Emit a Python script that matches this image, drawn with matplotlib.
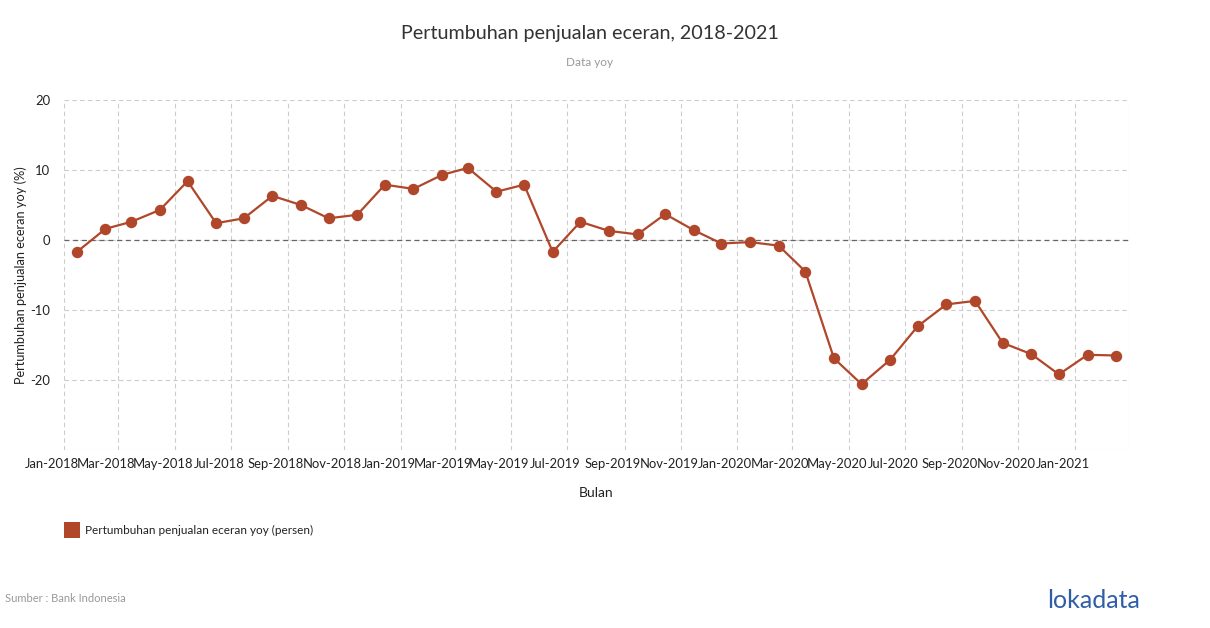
import matplotlib
matplotlib.use("Agg")
import matplotlib.pyplot as plt
import matplotlib.transforms as mtransforms
import pandas as pd
from matplotlib.patches import Rectangle

plt.rcParams['font.family'] = ['Lato', 'DejaVu Sans']

months = pd.date_range("2018-01-01", periods=38, freq="MS") + pd.Timedelta(days=14)
values = [-1.7, 1.6, 2.6, 4.3, 8.4, 2.4, 3.1, 6.3, 5.0, 3.1, 3.6, 7.9,
          7.3, 9.3, 10.3, 6.9, 7.9, -1.7, 2.6, 1.3, 0.8, 3.7, 1.4, -0.5,
          -0.3, -0.8, -4.5, -16.9, -20.6, -17.1, -12.3, -9.2, -8.7, -14.7, -16.3, -19.2,
          -16.4, -16.5]
tick_dates = pd.date_range("2018-01-01", "2021-03-01", freq="2MS")
tick_labels = [d.strftime("%b-%Y") if d < pd.Timestamp("2021-03-01") else "" for d in tick_dates]
y_ticks = [20, 10, 0, -10, -20]
y_labels = ["20", "10", "0", "-10", "-20"]

title = "Pertumbuhan penjualan eceran, 2018-2021"
subtitle = "Data yoy"
series_name = "Pertumbuhan penjualan eceran yoy (persen)"
color = "#B0472A"

W, H = 1210, 628
fig = plt.figure(figsize=(W / 100, H / 100), dpi=100)
ax = fig.add_axes([64 / W, 1 - 450 / H, (1129 - 64) / W, 350 / H])

ax.plot(months, values, color=color, lw=1.6, marker="o", ms=7.2, zorder=3)
ax.axhline(0, color="#666666", lw=0.9, ls=(0, (4, 3)), zorder=2)

ax.set_xlim(pd.Timestamp("2018-01-01"), pd.Timestamp("2021-03-01"))
ax.set_ylim(-30, 20)
ax.set_xticks(tick_dates)
ax.set_xticklabels(tick_labels)
ax.set_yticks(y_ticks)
ax.set_yticklabels(y_labels)
ax.tick_params(length=0, labelsize=9.4, colors="#222222", pad=6)
ax.tick_params(axis="y", pad=10)
offset = mtransforms.ScaledTranslation(-12 / 100, 0, fig.dpi_scale_trans)
for lbl in ax.get_xticklabels():
    lbl.set_transform(lbl.get_transform() + offset)
for s in ax.spines.values():
    s.set_visible(False)
ax.grid(True, color="#cccccc", lw=0.8, ls=(0, (4, 3)))
ax.axhline(-30, color="#cccccc", lw=0.8, ls=(0, (4, 3)))

ax.set_ylabel("Pertumbuhan penjualan eceran yoy (%)", fontsize=9.2, color="#222222", labelpad=2)
ax.set_xlabel("Bulan", fontsize=10, color="#222222", labelpad=12)

fig.text(590 / W, 1 - 33 / H, title, ha="center", va="center", fontsize=14.2, color="#333333")
fig.text(590 / W, 1 - 62 / H, subtitle, ha="center", va="center", fontsize=8.5, color="#999999")

fig.patches.append(Rectangle((64 / W, 1 - 538 / H), 16 / W, 16 / H, transform=fig.transFigure,
                             facecolor=color, edgecolor="none"))
fig.text(85 / W, 1 - 530 / H, series_name, ha="left", va="center", fontsize=8.5, color="#222222")

fig.text(5 / W, 1 - 598 / H, "Sumber : Bank Indonesia", ha="left", va="center", fontsize=8, color="#999999")
fig.text(1140 / W, 1 - 600 / H, "lokadata", ha="right", va="center", fontsize=18, color="#2f5ea6")

fig.savefig("out.png", dpi=100, facecolor="white")
